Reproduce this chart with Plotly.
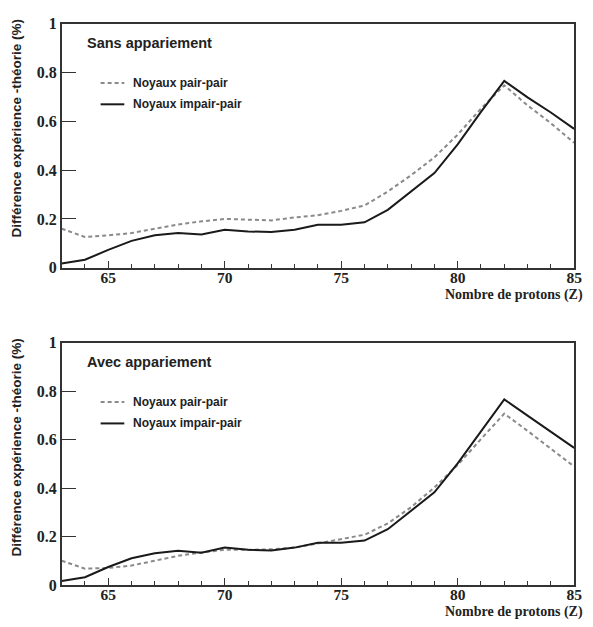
import plotly.graph_objects as go

Z = list(range(63, 86))

# Sans appariement
sans_pair = [0.16, 0.126, 0.133, 0.142, 0.16, 0.177, 0.19, 0.2, 0.197, 0.194, 0.206,
             0.215, 0.233, 0.255, 0.312, 0.379, 0.452, 0.545, 0.652, 0.747, 0.665, 0.592, 0.512]
sans_impair = [0.017, 0.033, 0.073, 0.11, 0.133, 0.142, 0.136, 0.156, 0.149, 0.146, 0.156,
               0.176, 0.176, 0.186, 0.237, 0.312, 0.388, 0.505, 0.638, 0.765, 0.698, 0.636, 0.569]

# Avec appariement
avec_pair = [0.10, 0.067, 0.07, 0.08, 0.10, 0.12, 0.134, 0.145, 0.145, 0.147, 0.154,
             0.171, 0.187, 0.207, 0.254, 0.321, 0.402, 0.495, 0.602, 0.707, 0.636, 0.562, 0.489]
avec_impair = [0.016, 0.032, 0.074, 0.11, 0.131, 0.141, 0.133, 0.154, 0.145, 0.142, 0.154,
               0.174, 0.174, 0.183, 0.23, 0.305, 0.382, 0.502, 0.636, 0.766, 0.699, 0.632, 0.566]

panel_titles = ["Sans appariement", "Avec appariement"]
legend_names = ["Noyaux pair-pair", "Noyaux impair-pair"]
y_tickvals = [0, 0.2, 0.4, 0.6, 0.8, 1]
y_ticktext = ["0", "0.2", "0.4", "0.6", "0.8", "1"]
x_tickvals = [65, 70, 75, 80, 85]
y_title = "Différence expérience -théorie (%)"
x_title = "Nombre de protons (Z)"

W, H = 593, 627
x0px, x1px = 62.5, 582
panels = [
    dict(top=16, bot=267, pair=sans_pair, impair=sans_impair, title=panel_titles[0]),
    dict(top=344, bot=593, pair=avec_pair, impair=avec_impair, title=panel_titles[1]),
]

fig = go.Figure()
annotations = []
shapes = []
serif = "Liberation Serif"
sans = "Liberation Sans"
DASH = "4px,3px"

for i, p in enumerate(panels):
    xa = "x" if i == 0 else f"x{i+1}"
    ya = "y" if i == 0 else f"y{i+1}"
    fig.add_trace(go.Scatter(x=Z, y=p["pair"], mode="lines", xaxis=xa, yaxis=ya,
                             line=dict(color="#8a8a8a", width=2, dash=DASH),
                             showlegend=False, name=legend_names[0]))
    fig.add_trace(go.Scatter(x=Z, y=p["impair"], mode="lines", xaxis=xa, yaxis=ya,
                             line=dict(color="#1a1a1a", width=2),
                             showlegend=False, name=legend_names[1]))
    dom_y = [1 - p["bot"] / H, 1 - p["top"] / H]
    axkey_x = "xaxis" if i == 0 else f"xaxis{i+1}"
    axkey_y = "yaxis" if i == 0 else f"yaxis{i+1}"
    fig.layout[axkey_x] = dict(
        domain=[x0px / W, x1px / W], range=[63, 85], anchor=ya,
        showline=True, linecolor="#333", linewidth=1.5, mirror=True,
        ticks="inside", ticklen=7, tickcolor="#333", tickwidth=1.2,
        tickvals=x_tickvals, showgrid=False, zeroline=False,
        ticklabelstandoff=-5,
        tickfont=dict(family=serif, size=15.5, color="#222", weight="bold"),
        minor=dict(dtick=1, tick0=63, ticks="inside", ticklen=4, tickcolor="#333", tickwidth=1),
    )
    fig.layout[axkey_y] = dict(
        domain=dom_y, range=[0, 1], anchor=xa,
        showline=True, linecolor="#333", linewidth=1.5, mirror=True,
        ticks="inside", ticklen=15, tickcolor="#333", tickwidth=1.2,
        tickvals=y_tickvals, ticktext=y_ticktext, showgrid=False, zeroline=False,
        tickfont=dict(family=serif, size=16, color="#222", weight="bold"),
    )
    # panel title
    annotations.append(dict(x=86 / W, y=1 - (p["top"] + 20) / H, xref="paper", yref="paper",
                            text=p["title"], showarrow=False, xanchor="left", yanchor="middle",
                            font=dict(family=sans, size=14.5, color="#222", weight="bold")))
    # legend
    for j, (nm, col, dash) in enumerate([(legend_names[0], "#8a8a8a", DASH),
                                         (legend_names[1], "#1a1a1a", "solid")]):
        ly = p["top"] + 61 + j * 22
        shapes.append(dict(type="line", xref="paper", yref="paper",
                           x0=102 / W, x1=126 / W, y0=1 - ly / H, y1=1 - ly / H,
                           line=dict(color=col, width=2, dash=dash)))
        annotations.append(dict(x=133 / W, y=1 - ly / H, xref="paper", yref="paper",
                                text=nm, showarrow=False, xanchor="left", yanchor="middle",
                                font=dict(family=sans, size=12, color="#222", weight="bold")))
    # y title
    annotations.append(dict(x=17 / W, y=1 - (p["top"] + 108) / H, xref="paper", yref="paper",
                            text=y_title, showarrow=False, textangle=-90,
                            xanchor="center", yanchor="middle",
                            font=dict(family=sans, size=13.5, color="#222", weight="bold")))
    # x title
    annotations.append(dict(x=593 / W, y=1 - (p["bot"] + 28) / H, xref="paper", yref="paper",
                            text=x_title, showarrow=False, xanchor="right", yanchor="middle",
                            font=dict(family=serif, size=14, color="#222", weight="bold")))

fig.update_layout(width=W, height=H, margin=dict(l=0, r=0, t=0, b=0),
                  paper_bgcolor="white", plot_bgcolor="white",
                  annotations=annotations, shapes=shapes)
fig.write_html("out.html")
